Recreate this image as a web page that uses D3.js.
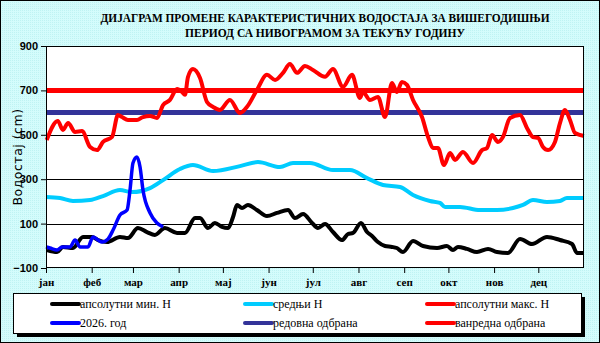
<!DOCTYPE html>
<html><head><meta charset="utf-8">
<script src="https://cdn.jsdelivr.net/npm/d3@7"></script>
<style>body{margin:0;padding:0;background:#fff}svg{display:block}</style>
</head><body>
<script>
const titleLines = ["ДИЈАГРАМ ПРОМЕНЕ КАРАКТЕРИСТИЧНИХ ВОДОСТАЈА ЗА ВИШЕГОДИШЊИ", "ПЕРИОД СА НИВОГРАМОМ ЗА ТЕКУЋУ ГОДИНУ"];
const yLabel = "Водостај (cm)";
const monthLabels = ["јан","феб","мар","апр","мај","јун","јул","авг","сеп","окт","нов","дец"];
const monthStarts = [0,31,59,90,120,151,181,212,243,273,304,334];
const yTicks = [-100,100,300,500,700,900];
const gridValues = [100,300,500,700];

// [day of year, water level cm]
const minSeries = [[0.7,-19],[7.5,-28],[11.5,-5],[18.3,-10],[25.1,40],[31.2,40],[35.3,26],[41.4,17],[50.2,40],[55.6,35],[62.4,80],[68.5,62],[73.9,49],[80.7,80],[88.9,58],[94.3,58],[101.1,125],[104.5,125],[109.9,80],[114.6,103],[119.4,85],[123.5,80],[126.9,130],[129.6,184],[133,170],[137,184],[143.1,161],[149.9,134],[156.7,148],[164.2,161],[168.9,125],[174.4,143],[180.5,103],[184.5,80],[189.3,98],[194.7,62],[200.8,26],[204.9,53],[208.3,58],[213.7,103],[217.8,62],[221.2,44],[225.2,17],[230,-1],[234.7,-5],[238,-10],[242.2,-28],[249,22],[255.8,-1],[265.3,-10],[272,-1],[276.1,-19],[279.5,-5],[285.6,-14],[292.4,-28],[299.9,-14],[306,-28],[313.4,-32],[321.6,31],[329.7,8],[339.9,40],[348.7,26],[356.9,8],[360.2,-32],[365,-32]];
const meanSeries = [[0,220],[9.5,215],[18.3,202],[29.9,206],[38.7,224],[50.2,251],[58.3,242],[70.6,260],[79.4,296],[90.9,346],[99.7,364],[113.3,337],[131.6,359],[143.8,377],[158.7,355],[167.6,373],[179.1,373],[194.7,341],[206.2,341],[217.8,305],[228.6,274],[240.2,265],[249,229],[260.5,202],[267.3,193],[270.7,175],[280.9,175],[294.4,161],[306,161],[316.8,170],[323.6,184],[330.4,206],[339.9,197],[348.7,202],[353.4,215],[365,215]];
const maxSeries = [[0.5,477],[8,562],[11.5,522],[15,553],[19.7,513],[24.4,517],[29.9,445],[34.6,431],[38.7,468],[44.8,490],[48.8,589],[51.6,580],[55.6,567],[61.7,567],[65.8,580],[70.6,585],[75.3,576],[79.4,634],[84.1,657],[88.9,706],[92.3,693],[94.3,680],[96.3,760],[99.7,796],[104.5,756],[109.2,648],[113.3,626],[118,612],[124.8,657],[131.6,598],[136.4,626],[143.1,702],[149.9,770],[155.4,747],[160.8,779],[165.5,819],[170.3,779],[175.7,810],[181.1,792],[189.3,761],[194.7,796],[201.5,716],[207.6,770],[213,666],[215,693],[219.8,657],[225.2,670],[230,580],[234.7,733],[238.1,693],[241.5,738],[244.9,725],[249,657],[255.1,580],[259.2,490],[262.5,441],[265.9,441],[270,364],[274.1,418],[277.5,387],[282.9,423],[289.7,373],[295.8,431],[299.2,441],[302.6,499],[306.6,468],[310,490],[314.8,576],[321.6,589],[326.3,531],[330.4,490],[333.8,486],[337.2,445],[340.6,431],[345.3,468],[348.7,553],[352.1,612],[355.5,567],[358.9,508],[365,495]];
const currentSeries = [[0,-5],[2.7,-10],[7.5,-19],[10.9,-5],[16.3,-5],[19.7,26],[23.1,-5],[28.5,-5],[31.9,40],[35.3,26],[38,17],[42.1,31],[45.5,71],[50.2,139],[55,161],[57,251],[59,373],[61.7,400],[63.8,355],[65.8,251],[70.6,148],[75.3,103],[79.4,85]];
const regularDefence = 600;
const emergencyDefence = 700;

const legendItems = [
  {label:"апсолутни мин. H", color:"#000000"},
  {label:"средњи H", color:"#00ccff"},
  {label:"апсолутни макс. H", color:"#ff0000"},
  {label:"2026. год", color:"#0000ff"},
  {label:"редовна одбрана", color:"#333399"},
  {label:"ванредна одбрана", color:"#ff0000"}
];

const W = 600, H = 343;
const svg = d3.select("body").append("svg").attr("width", W).attr("height", H);
const defs = svg.append("defs");
const pat = defs.append("pattern").attr("id","dots").attr("width",2).attr("height",2).attr("patternUnits","userSpaceOnUse");
pat.append("rect").attr("width",2).attr("height",2).attr("fill","#d4fcfc");
pat.append("rect").attr("width",1).attr("height",1).attr("fill","#bff3f3");
svg.append("rect").attr("x",0.5).attr("y",0.5).attr("width",W-1).attr("height",H-1).attr("fill","url(#dots)").attr("stroke","#000");

const L = 46, R = 584, T = 46, B = 268;
const x = d3.scaleLinear().domain([0,365]).range([L,R]);
const y = d3.scaleLinear().domain([-100,900]).range([B,T]);

svg.append("rect").attr("x",L).attr("y",T).attr("width",R-L).attr("height",B-T).attr("fill","#fff");

// title
svg.selectAll(".title").data(titleLines).enter().append("text")
  .attr("x",325).attr("y",(d,i)=>22+i*15).attr("text-anchor","middle")
  .attr("font-family","'Liberation Serif', 'Times New Roman', serif").attr("font-weight","bold")
  .attr("font-size",12.5).attr("textLength",(d,i)=> i===0?449:280).attr("lengthAdjust","spacingAndGlyphs")
  .text(d=>d);

// grid
svg.append("g").selectAll("line").data(gridValues).enter().append("line")
  .attr("x1",L).attr("x2",R).attr("y1",d=>Math.round(y(d))+0.5).attr("y2",d=>Math.round(y(d))+0.5)
  .attr("stroke","#000").attr("stroke-width",1);

// axes
const yAxis = svg.append("g").attr("transform",`translate(${L},0)`)
  .call(d3.axisLeft(y).tickValues(yTicks).tickSize(5).tickSizeOuter(0).tickFormat(d3.format("d")));
yAxis.select(".domain").remove();
yAxis.selectAll("text").attr("font-family","'Liberation Sans', Arial, sans-serif").attr("font-weight","bold").attr("font-size",11).attr("fill","#000").attr("x",-8);
yAxis.selectAll("line").attr("stroke","#000");

const xAxis = svg.append("g").attr("transform",`translate(0,${B})`)
  .call(d3.axisBottom(x).tickValues(monthStarts).tickSize(5).tickSizeOuter(0).tickFormat((d,i)=>monthLabels[i]));
xAxis.select(".domain").remove();
xAxis.selectAll("text").attr("font-family","'Liberation Serif', 'Times New Roman', serif").attr("font-weight","bold").attr("font-size",11).attr("fill","#000").attr("dy","0.9em");
xAxis.selectAll("line").attr("stroke","#000");

// y label
svg.append("text").attr("transform",`translate(22,${(T+B)/2}) rotate(-90)`).attr("text-anchor","middle")
  .attr("font-family","'DejaVu Sans', sans-serif").attr("font-size",12.5).attr("letter-spacing",0.5).text(yLabel);

// lines
const line = d3.line().x(d=>x(d[0])).y(d=>y(d[1])).curve(d3.curveMonotoneX);
const plot = svg.append("g");
plot.append("line").attr("x1",L).attr("x2",R).attr("y1",y(emergencyDefence)).attr("y2",y(emergencyDefence)).attr("stroke","#ff0000").attr("stroke-width",5);
plot.append("line").attr("x1",L).attr("x2",R).attr("y1",y(regularDefence)).attr("y2",y(regularDefence)).attr("stroke","#333399").attr("stroke-width",5);
plot.append("path").datum(meanSeries).attr("d",line).attr("fill","none").attr("stroke","#00ccff").attr("stroke-width",4).attr("stroke-linejoin","round");
plot.append("path").datum(minSeries).attr("d",line).attr("fill","none").attr("stroke","#000").attr("stroke-width",4).attr("stroke-linejoin","round");
plot.append("path").datum(maxSeries).attr("d",line).attr("fill","none").attr("stroke","#ff0000").attr("stroke-width",4).attr("stroke-linejoin","round");
plot.append("path").datum(currentSeries).attr("d",line).attr("fill","none").attr("stroke","#0000ff").attr("stroke-width",3.5).attr("stroke-linejoin","round");

// plot border
svg.append("rect").attr("x",L+0.5).attr("y",T+0.5).attr("width",R-L-1).attr("height",B-T-1).attr("fill","none").attr("stroke","#000");

// legend
const lg = svg.append("g");
lg.append("rect").attr("x",17).attr("y",297).attr("width",568).attr("height",40).attr("fill","#000");
lg.append("rect").attr("x",13.5).attr("y",293.5).attr("width",568).attr("height",40).attr("fill","#fff").attr("stroke","#000");
const colX = [52,245,427];
const rowY = [304,323];
legendItems.forEach((it,i)=>{
  const cx = colX[i%3], cy = rowY[Math.floor(i/3)];
  lg.append("line").attr("x1",cx).attr("x2",cx+27).attr("y1",cy).attr("y2",cy).attr("stroke",it.color).attr("stroke-width",4).attr("stroke-linecap","round");
  lg.append("text").attr("x",cx+28).attr("y",cy+4).attr("font-family","'Liberation Serif', 'Times New Roman', serif").attr("font-size",12).attr("fill","#000").text(it.label);
});
</script>
</body></html>
